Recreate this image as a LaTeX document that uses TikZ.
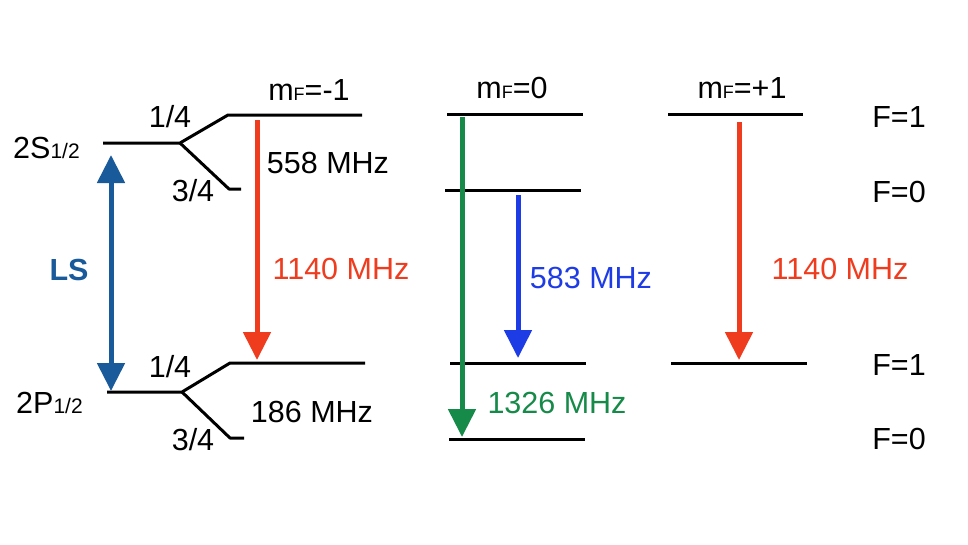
\documentclass[tikz,border=0pt]{standalone}
\usepackage{fontspec}
\setmainfont{Liberation Sans}
\usetikzlibrary{arrows.meta}
\definecolor{myred}{RGB}{240,60,30}
\definecolor{mygreen}{RGB}{22,138,72}
\definecolor{myblue}{RGB}{30,60,230}
\definecolor{lsblue}{RGB}{25,90,155}
\newcommand{\smallsub}[1]{{\fontsize{21}{21}\selectfont #1}}
\newcommand{\mF}{m{\fontsize{18}{18}\selectfont F}}
\begin{document}
\begin{tikzpicture}[x=1pt,y=-1pt,
  level/.style={line width=3pt, black, line join=round},
  trans/.style={line width=5pt, -{Triangle[width=27pt,length=28pt]}},
  lab/.style={font=\fontsize{30.5}{36}\selectfont, inner sep=0pt, anchor=base},
]
\fill[white] (0,0) rectangle (968,544);

% 2S_{1/2} level and hyperfine splitting
\coordinate (sL) at (103,143);
\coordinate (sB) at (180,143);
\coordinate (sUa) at (228,115);
\coordinate (sUb) at (362,115);
\coordinate (sDa) at (229,189);
\coordinate (sDb) at (241,189);
\draw[level] (sL) -- (sB) -- (sUa) -- (sUb);
\draw[level] (sB) -- (sDa) -- (sDb);

% 2P_{1/2} level and hyperfine splitting
\coordinate (pL) at (107,392);
\coordinate (pB) at (182,392);
\coordinate (pUa) at (230,363);
\coordinate (pUb) at (365,363);
\coordinate (pDa) at (230,438);
\coordinate (pDb) at (244,438);
\draw[level] (pL) -- (pB) -- (pUa) -- (pUb);
\draw[level] (pB) -- (pDa) -- (pDb);

% m_F = 0 column
\coordinate (a1) at (447,114); \coordinate (a2) at (583,114);
\coordinate (b1) at (445,190); \coordinate (b2) at (581,190);
\coordinate (c1) at (450,363); \coordinate (c2) at (586,363);
\coordinate (d1) at (449,439); \coordinate (d2) at (585,439);
\draw[level] (a1) -- (a2);
\draw[level] (b1) -- (b2);
\draw[level] (c1) -- (c2);
\draw[level] (d1) -- (d2);

% m_F = +1 column
\coordinate (e1) at (668,114); \coordinate (e2) at (803,114);
\coordinate (f1) at (671,363); \coordinate (f2) at (807,363);
\draw[level] (e1) -- (e2);
\draw[level] (f1) -- (f2);

% arrows
\coordinate (ls1) at (111,155);
\coordinate (ls2) at (111,391);
\draw[trans, lsblue, {Triangle[width=27pt,length=28pt]}-{Triangle[width=27pt,length=28pt]}] (ls1) -- (ls2);
\coordinate (r1a) at (257,120); \coordinate (r1b) at (257,360);
\draw[trans, myred] (r1a) -- (r1b);
\coordinate (g1a) at (462,117); \coordinate (g1b) at (462,437);
\draw[trans, mygreen] (g1a) -- (g1b);
\coordinate (b1a) at (518,195); \coordinate (b1b) at (518,358);
\draw[trans, myblue] (b1a) -- (b1b);
\coordinate (r2a) at (739,122); \coordinate (r2b) at (739,360);
\draw[trans, myred] (r2a) -- (r2b);

% labels
\node[lab, anchor=base west] (t2s) at (13,158) {2S\smallsub{1/2}};
\node[lab, anchor=base west] (t2p) at (16,413) {2P\smallsub{1/2}};
\node[lab] (s14) at (170,127) {1/4};
\node[lab] (s34) at (193,201) {3/4};
\node[lab] (p14) at (170,377) {1/4};
\node[lab] (p34) at (193,450) {3/4};
\node[lab] (mfm) at (309,100) {\mF=-1};
\node[lab] (mf0) at (512,98) {\mF=0};
\node[lab] (mfp) at (742,98) {\mF=+1};
\node[lab] (f558) at (328,173) {558 MHz};
\node[lab] (f186) at (312,422) {186 MHz};
\node[lab, myred] (f1140a) at (341,279) {1140 MHz};
\node[lab, myred] (f1140b) at (840,279) {1140 MHz};
\node[lab, myblue] (f583) at (591,288) {583 MHz};
\node[lab, mygreen] (f1326) at (557,413) {1326 MHz};
\node[lab, lsblue, font=\fontsize{30.5}{36}\selectfont\bfseries] (ls) at (69,280) {LS};
\node[lab] (F1a) at (899,127) {F=1};
\node[lab] (F0a) at (899,202) {F=0};
\node[lab] (F1b) at (899,375) {F=1};
\node[lab] (F0b) at (899,449) {F=0};
\end{tikzpicture}
\end{document}
